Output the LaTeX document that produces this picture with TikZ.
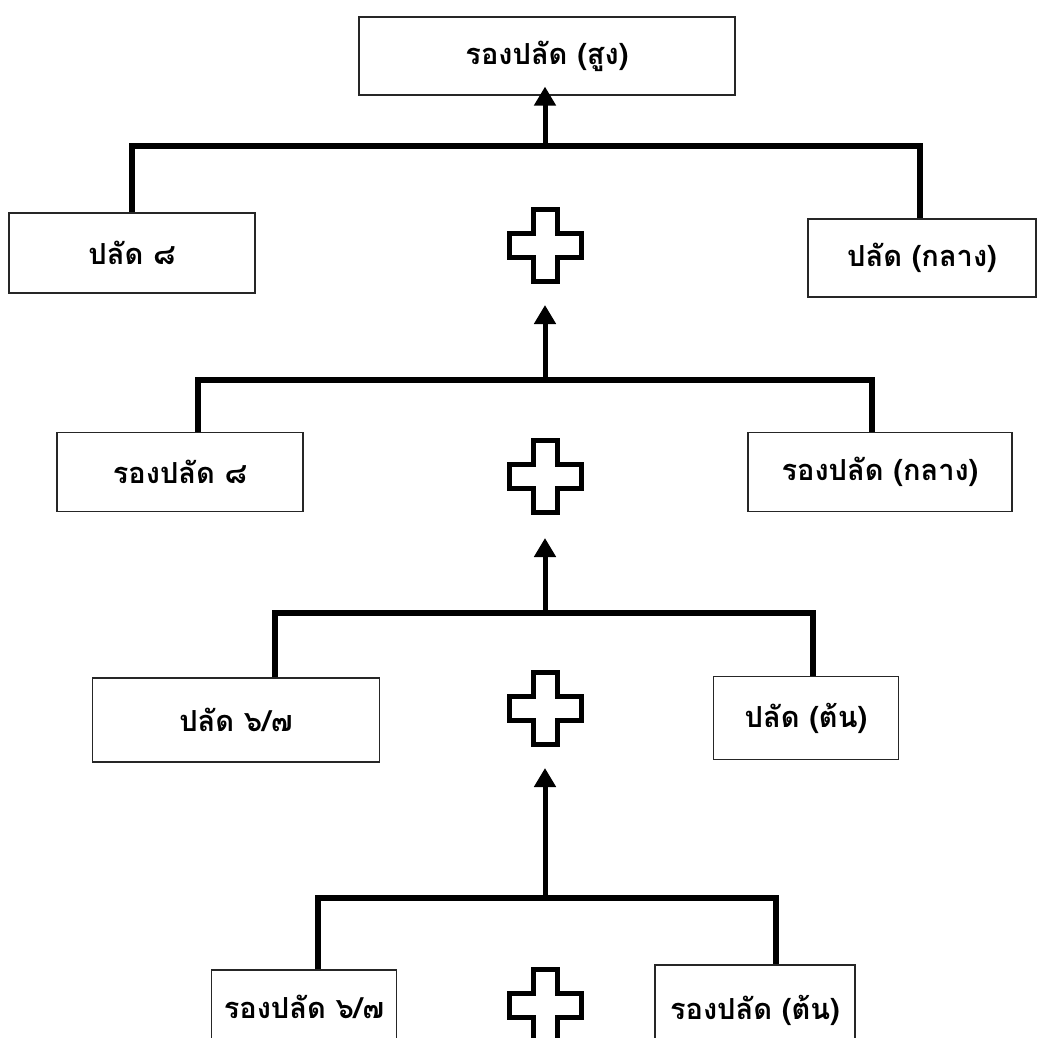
\documentclass[tikz,border=0pt]{standalone}
\usepackage{fontspec}
\newfontfamily\thaifont[Script=Thai]{Loma}
\usetikzlibrary{arrows.meta}
\begin{document}
\begin{tikzpicture}[x=1pt,y=-1pt,
  rankbox/.style={draw=black!85,line width=1.2pt,fill=white,rectangle,inner sep=0pt,
    font=\thaifont\bfseries\fontsize{29}{33}\selectfont},
  bracket/.style={line width=5.5pt,line join=miter,line cap=butt},
  uparrow/.style={line width=5pt,-{Triangle[width=21pt,length=19pt]}},
  plusline/.style={line width=5pt,line join=miter},
  plussign/.pic={\draw[plusline]
    (-12,-36) -- (12,-36) -- (12,-12) -- (36,-12) -- (36,12) -- (12,12)
    -- (12,36) -- (-12,36) -- (-12,12) -- (-36,12) -- (-36,-12) -- (-12,-12) -- cycle;}]
\path[use as bounding box,fill=white] (0,0) rectangle (1043,1037);
\clip (0,0) rectangle (1043,1037);

% rank boxes
\node[rankbox,minimum width=376pt,minimum height=78pt] (top) at (547,56) {รองปลัด (สูง)};
\node[rankbox,minimum width=246pt,minimum height=80pt] (p8) at (132,253) {ปลัด ๘};
\node[rankbox,minimum width=228pt,minimum height=78pt] (pmid) at (922,258) {ปลัด (กลาง)};
\node[rankbox,minimum width=246pt,minimum height=79pt] (rp8) at (180,472) {รองปลัด ๘};
\node[rankbox,minimum width=264pt,minimum height=79pt] (rpmid) at (880,472) {รองปลัด (กลาง)};
\node[rankbox,minimum width=287pt,minimum height=84pt] (p67) at (236,720) {ปลัด ๖/๗};
\node[rankbox,minimum width=185pt,minimum height=83pt] (pbeg) at (806,718) {ปลัด (ต้น)};
\node[rankbox,minimum width=185pt,minimum height=90pt] (rp67) at (304,1015) {\raisebox{16pt}{รองปลัด ๖/๗}};
\node[rankbox,minimum width=200pt,minimum height=100pt] (rpbeg) at (755,1015) {\raisebox{16pt}{รองปลัด (ต้น)}};

% plus signs
\coordinate (plus1) at (545,245);
\coordinate (plus2) at (545,476);
\coordinate (plus3) at (545,708);
\coordinate (plus4) at (545,1005);
\foreach \c in {plus1,plus2,plus3,plus4} \pic at (\c) {plussign};

% joining brackets
\coordinate (j1) at (545,146);
\coordinate (j2) at (545,380);
\coordinate (j3) at (545,613);
\coordinate (j4) at (545,898);
\draw[bracket] (p8.north) -- (p8.north |- j1) -- (920,146) coordinate (j1r) -- (j1r |- pmid.north);
\draw[bracket] (198,472 |- rp8.north) coordinate (j2l) -- (j2l |- j2) -- (872,380) coordinate (j2r) -- (j2r |- rpmid.north);
\draw[bracket] (275,720 |- p67.north) coordinate (j3l) -- (j3l |- j3) -- (813,613) coordinate (j3r) -- (j3r |- pbeg.north);
\draw[bracket] (318,1000 |- rp67.north) coordinate (j4l) -- (j4l |- j4) -- (776,898) coordinate (j4r) -- (j4r |- rpbeg.north);

% arrows up to the next rank
\draw[uparrow] (j1) -- ([xshift=-2pt,yshift=9pt]top.south);
\draw[uparrow] (j2) -- ([yshift=-60pt]plus1);
\draw[uparrow] (j3) -- ([yshift=-62pt]plus2);
\draw[uparrow] (j4) -- ([yshift=-60pt]plus3);
\end{tikzpicture}
\end{document}
